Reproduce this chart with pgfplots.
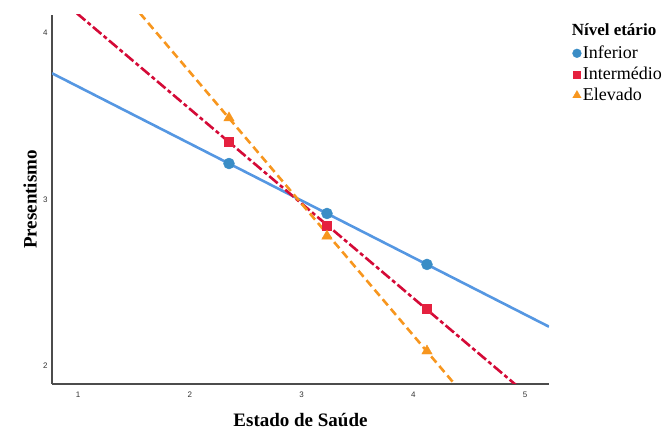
\documentclass[border=0pt]{standalone}
\usepackage{fontspec}
\setmainfont{Liberation Serif}
\newfontfamily\tickfont{Liberation Sans}
\usepackage{pgfplots}
\pgfplotsset{compat=1.18}
\definecolor{cblue}{HTML}{5597E2}
\definecolor{cbluem}{HTML}{3A8DC6}
\definecolor{cred}{HTML}{D40A37}
\definecolor{credm}{HTML}{E5213F}
\definecolor{corange}{HTML}{F7961E}
\begin{document}
\begin{tikzpicture}[x=1pt,y=1pt]
\path[use as bounding box] (0,0) rectangle (670,430);
\begin{axis}[
  at={(52pt,46pt)}, anchor=south west,
  width=497pt, height=369pt, scale only axis,
  xmin=0.767, xmax=5.215, ymin=1.892, ymax=4.108,
  axis lines*=left,
  axis line style={line width=1.3pt, color=black!70},
  xtick={1,2,3,4,5}, ytick={2,3,4},
  major tick length=0pt,
  /pgf/number format/assume math mode=true,
  ticklabel style={font=\tickfont\fontsize{8}{8}\selectfont, color=black!80},
  xticklabel style={yshift=-4pt},
  yticklabel style={xshift=-1pt},
  xlabel={\textbf{Estado de Saúde}},
  ylabel={\textbf{Presentismo}},
  label style={font=\fontsize{19}{19}\selectfont},
  xlabel style={at={(axis description cs:0.5,-0.098)}, anchor=center},
  ylabel style={at={(axis description cs:-0.044,0.5)}, anchor=center},
  clip mode=individual,
  legend style={at={(axis description cs:1.047,0.92)}, anchor=north west,
     draw=none, fill=none, font=\fontsize{18}{18}\selectfont,
     row sep=4pt, inner sep=0pt,
     nodes={inner sep=1.5pt}},
  legend cell align=left,
  legend image code/.code={\draw[#1, mark options={scale=0.8}] plot coordinates {(3pt,0pt)};},
]
% lines
\addplot[cblue, line width=2.6pt, forget plot] coordinates {(0.767,3.758) (5.215,2.236)};
\addplot[cred, line width=2.6pt, dash pattern=on 11pt off 3pt on 4pt off 3pt, forget plot] coordinates {(0.99,4.118) (4.93,1.88)};
\addplot[corange, line width=2.6pt, dash pattern=on 8pt off 4.5pt, forget plot] coordinates {(1.555,4.118) (4.385,1.88)};
% markers
\addplot[only marks, mark=*, mark size=5.5pt, color=cbluem, mark options={draw=cbluem, fill=cbluem}] coordinates {(2.351,3.216) (3.228,2.916) (4.123,2.610)};
\addlegendentry{Inferior}
\addplot[only marks, mark=square*, mark size=4.5pt, color=credm, mark options={draw=credm, fill=credm}] coordinates {(2.351,3.348) (3.228,2.844) (4.123,2.345)};
\addlegendentry{Intermédio}
\addplot[only marks, mark=triangle*, mark size=6pt, color=corange, mark options={draw=corange, fill=corange}] coordinates {(2.351,3.490) (3.228,2.780) (4.123,2.090)};
\addlegendentry{Elevado}
\end{axis}
\node[font=\bfseries\fontsize{17}{17}\selectfont] at (614,400) {Nível etário};
\end{tikzpicture}
\end{document}
